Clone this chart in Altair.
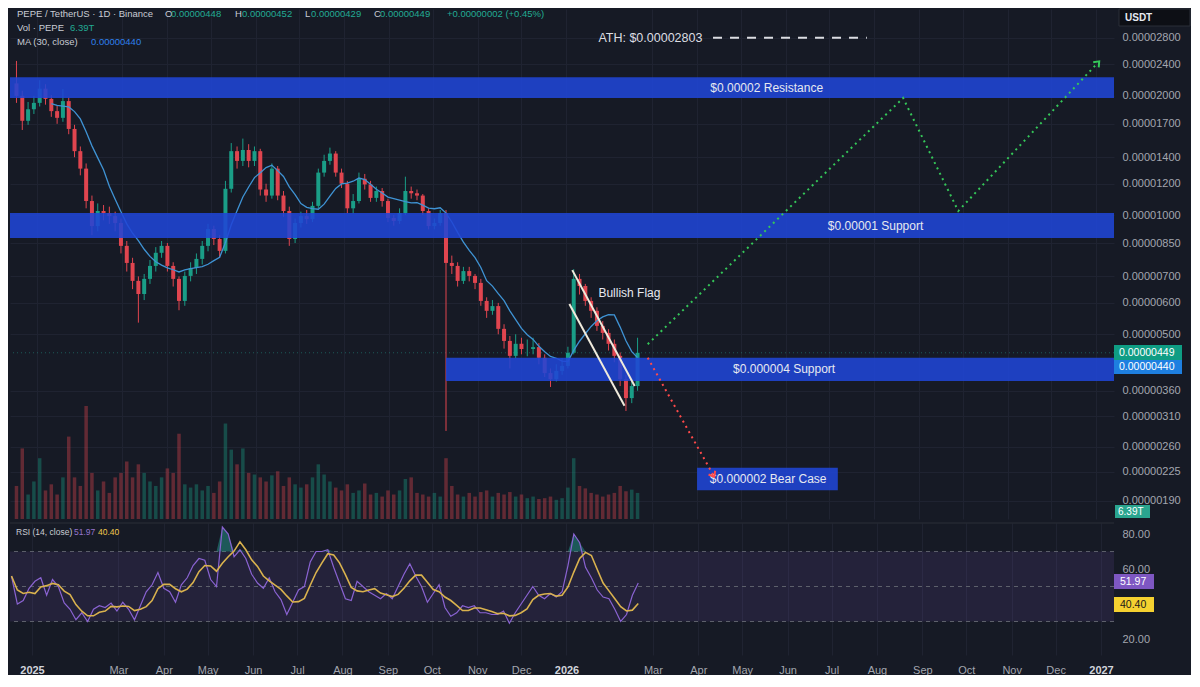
import altair as alt
import pandas as pd

# ---------------- values (prices in units of 1e-6 USDT) ----------------
candle_start = "2024-12-18"   # one candle every 4 days
first_open = 21.5
closes = [20.0, 17.3, 18.5, 19.2, 20.85, 19.65, 18.3, 17.6, 19.4, 16.5,
          14.5, 13.1, 10.85, 9.38, 10.24, 10.12, 9.94, 9.55, 8.36, 7.57,
          6.82, 6.32, 6.90, 7.44, 8.03, 8.36, 7.44, 6.90, 6.07, 7.02,
          7.35, 7.75, 8.36, 9.22, 8.70, 8.12, 11.65, 14.5, 13.7, 14.6,
          13.7, 14.5, 11.6, 11.2, 13.1, 11.2, 10.24, 8.70, 9.55, 9.94,
          9.77, 10.55, 12.8, 13.7, 14.3, 12.8, 12.0, 10.4, 10.85, 12.35,
          11.95, 11.05, 11.5, 10.85, 9.83, 9.66, 10.12, 11.5, 11.35, 11.2,
          10.24, 9.38, 9.55, 10.12, 7.57, 7.44, 6.82, 7.22, 7.02, 6.74,
          6.07, 5.73, 5.89, 5.16, 4.81, 4.41, 4.73, 4.59, 4.59, 4.64,
          4.36, 3.99, 3.85, 4.04, 4.16, 4.49, 6.90, 6.62, 6.07, 5.73,
          5.25, 5.04, 4.73, 4.41, 3.85, 3.45, 3.70, 4.49]
highs = [24.5, 20.6, 19.3, 20.0, 21.9, 21.4, 20.1, 18.9, 20.8, 19.8,
         16.9, 14.9, 13.5, 11.2, 10.7, 10.6, 10.5, 10.2, 9.8, 8.6,
         7.8, 7.0, 7.1, 7.7, 8.3, 8.6, 8.5, 7.6, 7.0, 7.2,
         7.6, 8.0, 8.6, 9.5, 9.4, 8.9, 12.2, 15.2, 14.9, 15.6,
         15.1, 14.9, 14.7, 12.0, 13.5, 13.3, 11.5, 10.5, 9.8, 10.2,
         10.3, 10.8, 13.1, 14.2, 14.8, 14.5, 13.1, 12.2, 11.3, 12.8,
         12.7, 12.2, 11.8, 11.7, 11.0, 10.0, 10.4, 12.5, 11.8, 11.6,
         11.3, 10.4, 9.8, 10.3, 10.3, 7.9, 7.6, 7.4, 7.4, 7.1,
         6.9, 6.2, 6.1, 6.0, 5.3, 4.95, 5.0, 4.9, 4.85, 4.9,
         4.75, 4.45, 4.1, 4.2, 4.35, 4.65, 7.3, 7.1, 6.7, 6.2,
         5.85, 5.4, 5.15, 4.85, 4.5, 3.95, 3.85, 4.9]
lows = [19.2, 16.4, 16.9, 18.0, 18.8, 19.0, 17.7, 17.0, 17.2, 16.0,
        14.0, 12.6, 10.4, 8.9, 9.1, 9.7, 9.5, 9.1, 8.0, 7.2,
        6.5, 5.35, 6.1, 6.7, 7.2, 7.8, 7.2, 6.6, 5.75, 5.9,
        6.8, 7.1, 7.5, 8.1, 8.4, 7.8, 8.0, 11.4, 13.1, 13.3,
        13.2, 13.3, 11.2, 10.8, 11.0, 10.9, 9.9, 8.36, 8.5, 9.3,
        9.5, 9.6, 10.4, 12.5, 13.4, 12.5, 11.7, 10.1, 10.1, 10.7,
        11.6, 10.8, 10.8, 10.5, 9.6, 9.4, 9.5, 10.0, 11.0, 10.9,
        10.0, 9.2, 9.2, 9.4, 2.85, 7.1, 6.6, 6.7, 6.8, 6.5,
        5.9, 5.5, 5.6, 5.0, 4.6, 4.1, 4.35, 4.45, 4.4, 4.45,
        4.2, 3.9, 3.68, 3.8, 3.95, 4.1, 4.45, 6.3, 5.9, 5.5,
        5.1, 4.85, 4.55, 4.25, 3.7, 3.2, 3.35, 3.6]
volumes_t = [8.1, 17.3, 6.0, 9.2, 14.9, 7.0, 8.5, 6.0, 10.2, 20.2,
             10.2, 8.1, 27.7, 11.3, 7.0, 9.2, 6.4, 10.2, 11.3, 14.1,
             10.2, 13.4, 11.3, 9.2, 8.1, 10.2, 12.4, 11.3, 20.9, 8.5,
             7.7, 8.5, 7.0, 8.1, 6.4, 9.2, 23.4, 17.0, 13.4, 17.3,
             11.3, 10.9, 10.2, 9.2, 10.7, 11.7, 8.1, 10.2, 8.5, 7.7,
             8.5, 10.2, 13.4, 10.9, 9.2, 7.7, 7.0, 8.5, 6.4, 7.0,
             8.7, 6.0, 6.4, 5.5, 7.0, 6.0, 7.0, 9.8, 10.2, 6.4,
             6.0, 5.5, 6.4, 5.5, 14.9, 8.1, 6.0, 5.5, 6.4, 5.5,
             6.6, 7.0, 5.5, 6.4, 6.0, 6.6, 5.5, 6.0, 5.1, 5.5,
             4.9, 5.1, 5.5, 4.7, 5.1, 7.7, 14.9, 8.1, 7.5, 6.4,
             6.0, 5.5, 6.0, 6.4, 8.1, 6.8, 7.2, 6.39]
rsi_values = [56, 40, 42, 49, 53, 55, 45, 54, 50, 40.6,
              37, 31, 35, 30, 37, 39, 38, 40.5, 36, 41,
              37, 31, 39, 47, 51, 58, 49, 47, 41, 51,
              55, 62, 66, 65, 54, 50, 84, 80, 67, 71,
              66, 57, 52, 49, 55, 47, 42.5, 34, 41, 48,
              50, 64, 70, 70, 71, 61, 52, 43, 42, 53,
              50, 47, 45, 43, 46, 43, 50, 57, 63, 56,
              50, 41, 46, 51, 38, 33, 35, 39, 38, 39,
              35, 35, 34, 34, 36, 29, 35, 40, 45, 50,
              45, 43, 46, 44, 47, 62, 80, 75, 61, 55,
              48, 44, 43, 37, 30, 34, 45, 51.97]

price_ticks = [28, 24, 20, 17, 14, 12, 10, 8.5, 7, 6, 5, 3.6, 3.1, 2.6, 2.25, 1.9]
rsi_ticks = [80, 60, 20]
rsi_levels = [70, 50, 30]
tick_months = [(2025, 1), (2025, 3), (2025, 4), (2025, 5), (2025, 6), (2025, 7), (2025, 8),
               (2025, 9), (2025, 10), (2025, 11), (2025, 12), (2026, 1), (2026, 3), (2026, 4),
               (2026, 5), (2026, 6), (2026, 7), (2026, 8), (2026, 9), (2026, 10), (2026, 11),
               (2026, 12), (2027, 1)]

band_start = ["2024-12-10", "2024-12-10", "2025-10-10", "2026-04-01"]
band_end = ["2027-01-20", "2027-01-20", "2027-01-20", "2026-07-07"]
band_low = [19.75, 8.75, 3.81, 2.02]
band_high = [22.3, 10.12, 4.36, 2.30]
band_label = ["$0.00002 Resistance", "$0.00001 Support", "$0.000004 Support", "$0.000002 Bear Case"]
band_label_date = ["2026-05-19", "2026-08-02", "2026-05-31", "2026-05-20"]

ath_price = 28.03
ath_label_date = "2026-01-23"
ath_dash_dates = ["2026-04-12", "2026-07-27"]

flag_start_date = ["2026-01-05", "2026-01-03"]
flag_start_price = [7.26, 5.96]
flag_end_date = ["2026-02-17", "2026-02-10"]
flag_end_price = [3.70, 3.30]
flag_label_date = "2026-01-23"
flag_label_price = 6.36

bull_dates = ["2026-02-26", "2026-08-21", "2026-09-28", "2027-01-02"]
bull_prices = [4.72, 19.75, 10.24, 24.2]
bear_dates = ["2026-02-26", "2026-04-12"]
bear_prices = [4.36, 2.21]
last_price = 4.49

# ---------------- tables ----------------
dates = pd.date_range(candle_start, periods=len(closes), freq="4D")
df = pd.DataFrame({
    "date": dates,
    "i": list(range(len(closes))),
    "open": [first_open] + closes[:-1],
    "close": closes,
    "high": highs,
    "low": lows,
    "vol": volumes_t,
    "rsi": rsi_values,
})
bands = pd.DataFrame({"start": pd.to_datetime(band_start), "end": pd.to_datetime(band_end),
                      "lo": band_low, "hi": band_high, "label": band_label,
                      "ld": pd.to_datetime(band_label_date)})
flags = pd.DataFrame({"d1": pd.to_datetime(flag_start_date), "p1": flag_start_price,
                      "d2": pd.to_datetime(flag_end_date), "p2": flag_end_price})
bull = pd.DataFrame({"d": pd.to_datetime(bull_dates), "p": bull_prices, "o": range(len(bull_dates))})
bear = pd.DataFrame({"d": pd.to_datetime(bear_dates), "p": bear_prices, "o": range(len(bear_dates))})

# ---------------- style ----------------
FONT = "Liberation Sans"
BG = "#161a25"
GRID = "#1f2331"
AX = "#a3a6af"
TXT = "#c9ccd4"
UP = "#1a9e87"
DN = "#e0454f"
BAND = "#2046d6"
GREEN_T = "#22ab94"
BLUE_T = "#2f80ed"
W, HP, HR = 1104, 510, 132

xscale = alt.Scale(domain=[alt.DateTime(year=2024, month=12, date=16, hours=23, minutes=31),
                           alt.DateTime(year=2027, month=1, date=9, hours=21)], nice=False)
tick_values = [alt.DateTime(year=y, month=m, date=1) for y, m in tick_months]
axis_top = alt.Axis(values=tick_values, labels=False, ticks=False, domain=False, grid=True,
                    gridColor=GRID, title=None)
axis_bottom = alt.Axis(values=tick_values, ticks=False, domain=False, grid=True, gridColor=GRID,
                       title=None, labelPadding=9, labelFont=FONT, labelFontSize=11,
                       labelColor={"condition": {"test": "month(datum.value) == 0", "value": "#d1d4dc"}, "value": AX},
                       labelFontWeight={"condition": {"test": "month(datum.value) == 0", "value": "bold"}, "value": "normal"},
                       labelOverlap=False, labelFlush=False,
                       labelExpr="month(datum.value) == 0 ? timeFormat(datum.value, '%Y') : timeFormat(datum.value, '%b')")

yscale = alt.Scale(type="log", domain=[1.708, 33.14], nice=False, zero=False)
price_axis = alt.Axis(orient="right", values=price_ticks, grid=True, gridColor=GRID, ticks=False,
                      domain=False, labelPadding=8, labelFont=FONT, labelFontSize=11, labelColor=AX,
                      labelOverlap=False, title=None,
                      labelExpr="format(datum.value * 1e-6, '.8f')")
rsi_scale = alt.Scale(domain=[10.86, 86.3], nice=False, zero=False)
rsi_axis = alt.Axis(orient="right", values=rsi_ticks, format=".2f", grid=False, ticks=False,
                    domain=False, labelPadding=8, labelFont=FONT, labelFontSize=11, labelColor=AX,
                    title=None)


def XT(f):
    return alt.X(f, type="temporal", scale=xscale, axis=axis_top, title=None)


def XB(f):
    return alt.X(f, type="temporal", scale=xscale, axis=axis_bottom, title=None)


def YP(f):
    return alt.Y(f, type="quantitative", scale=yscale, axis=price_axis, title=None)


def YR(f):
    return alt.Y(f, type="quantitative", scale=rsi_scale, axis=rsi_axis, title=None)


def txt(text, x, y, color, size=10, weight="normal", align="left"):
    return alt.Chart(pd.DataFrame({"t": [text]})).mark_text(
        align=align, baseline="middle", color=color, fontSize=size, fontWeight=weight, font=FONT
    ).encode(x=alt.value(x), y=alt.value(y), text="t:N")


def box(x1, x2, y1, y2, fill, stroke=None):
    kw = {"color": fill}
    if stroke:
        kw = {"fill": fill, "stroke": stroke, "strokeWidth": 1}
    return alt.Chart(pd.DataFrame({"a": [0]})).mark_rect(**kw).encode(
        x=alt.value(x1), x2=alt.value(x2), y=alt.value(y1), y2=alt.value(y2))


base = alt.Chart(df)
updown = alt.condition("datum.close >= datum.open", alt.value(UP), alt.value(DN))

# ---------------- price pane ----------------
volume = base.mark_bar(size=3.5, opacity=0.38, clip=True).encode(
    x=XT("date"), y=alt.Y("vol:Q", scale=alt.Scale(domain=[0, 125], nice=False), axis=None),
    color=updown)

price_line = alt.Chart(pd.DataFrame({"p": [last_price]})).mark_rule(
    color="#26a69a", opacity=0.45, strokeDash=[1, 3]).encode(y=YP("p"))
wicks = base.mark_rule(strokeWidth=1, clip=True).encode(x=XT("date"), y=YP("low"), y2="high", color=updown)
bodies = base.mark_bar(size=4, clip=True).encode(x=XT("date"), y=YP("open"), y2="close", color=updown)
ma = base.transform_window(ma="mean(close)", frame=[-7, 0], sort=[alt.SortField("date")]).transform_filter(
    "datum.i >= 6").mark_line(color="#3f93d4", strokeWidth=1.3, clip=True).encode(x=XT("date"), y=YP("ma:Q"))

band_rects = alt.Chart(bands).mark_rect(color=BAND, opacity=0.88, clip=True).encode(
    x=XT("start"), x2="end", y=YP("lo"), y2="hi")
band_texts = alt.Chart(bands).transform_calculate(mid="sqrt(datum.lo * datum.hi)").mark_text(
    color="#e6e9f0", fontSize=12, font=FONT, baseline="middle").encode(
    x=XT("ld"), y=YP("mid:Q"), text="label:N")

flag_lines = alt.Chart(flags).mark_rule(color="#efeadc", strokeWidth=2).encode(
    x=XT("d1"), x2="d2", y=YP("p1"), y2="p2")
flag_text = alt.Chart(pd.DataFrame({"d": pd.to_datetime([flag_label_date]), "p": [flag_label_price],
                                    "t": ["Bullish Flag"]})).mark_text(
    align="left", baseline="middle", color="#e6e9f0", fontSize=12, font=FONT).encode(
    x=XT("d"), y=YP("p"), text="t:N")

bull_path = alt.Chart(bull).mark_line(color="#35c759", strokeWidth=2, strokeDash=[2, 4]).encode(
    x=XT("d"), y=YP("p"), order="o:Q")
bear_path = alt.Chart(bear).mark_line(color="#ff4a4a", strokeWidth=2, strokeDash=[2, 4]).encode(
    x=XT("d"), y=YP("p"), order="o:Q")
chevron = "M -0.8 0.5 L 0 -0.5 L 0.8 0.5"
bull_head = alt.Chart(bull.tail(1)).mark_point(shape=chevron, filled=False, strokeWidth=2, size=90,
                                               angle=43, color="#35c759", opacity=1).encode(
    x=XT("d"), y=YP("p"))
bear_head = alt.Chart(bear.tail(1)).mark_point(shape=chevron, filled=False, strokeWidth=2, size=90,
                                               angle=151, color="#ff4a4a", opacity=1).encode(
    x=XT("d"), y=YP("p"))

ath_df = pd.DataFrame({"d": pd.to_datetime([ath_label_date]), "p": [ath_price], "t": ["ATH: $0.00002803"]})
ath_text = alt.Chart(ath_df).mark_text(align="left", baseline="middle", color="#dcdde2", fontSize=12.5,
                                        font=FONT).encode(x=XT("d"), y=YP("p"), text="t:N")
ath_dash = alt.Chart(pd.DataFrame({"d1": pd.to_datetime([ath_dash_dates[0]]),
                                   "d2": pd.to_datetime([ath_dash_dates[1]]), "p": [ath_price]})).mark_rule(
    color="#dcdde2", strokeWidth=2, strokeDash=[9, 8]).encode(x=XT("d1"), x2="d2", y=YP("p"))

header = [
    txt("PEPE / TetherUS · 1D · Binance", 7, 5, TXT, 9.5),
    txt("O", 155, 5, TXT, 9.5), txt("0.00000448", 161, 5, GREEN_T, 9.5),
    txt("H", 225, 5, TXT, 9.5), txt("0.00000452", 232, 5, GREEN_T, 9.5),
    txt("L", 295, 5, TXT, 9.5), txt("0.00000429", 301, 5, GREEN_T, 9.5),
    txt("C", 364, 5, TXT, 9.5), txt("0.00000449", 370, 5, GREEN_T, 9.5),
    txt("+0.00000002 (+0.45%)", 437, 5, GREEN_T, 9.5),
    txt("Vol · PEPE", 7, 19, TXT, 9.5), txt("6.39T", 60, 19, GREEN_T, 9.5),
    txt("MA (30, close)", 7, 33, TXT, 9.5), txt("0.00000440", 81, 33, BLUE_T, 9.5),
]
tags_top = [
    box(1109, 1180, 0, 17, "#0d0f15", "#2a2e39"), txt("USDT", 1115, 8.5, "#e6e9f0", 10, "bold"),
    box(1104, 1172, 336, 351, "#0f9d84"), txt("0.00000449", 1109, 343.5, "#ffffff", 10.5),
    box(1104, 1172, 351, 365, "#1e7fe0"), txt("0.00000440", 1109, 358, "#ffffff", 10.5),
    box(1105, 1140, 496, 509, "#2aa58f"), txt("6.39T", 1108, 502.5, "#ffffff", 10),
]

price_group = alt.layer(price_line, wicks, bodies, ma, band_rects, band_texts, flag_lines, flag_text,
                        bull_path, bear_path, bull_head, bear_head, ath_text, ath_dash,
                        *header, *tags_top)
top = alt.layer(volume, price_group).resolve_scale(y="independent").properties(width=W, height=HP)

# ---------------- RSI pane ----------------
zone = alt.Chart(pd.DataFrame({"lo": [rsi_levels[2]], "hi": [rsi_levels[0]]})).mark_rect(
    color="#7e57c2", opacity=0.14).encode(x=alt.value(0), x2=alt.value(W), y=YR("hi"), y2="lo")
dashes = alt.Chart(pd.DataFrame({"lvl": rsi_levels})).mark_rule(
    color="#5d606b", strokeDash=[4, 4], strokeWidth=1).encode(y=YR("lvl"))
sep = alt.Chart(pd.DataFrame({"a": [0]})).mark_rule(color="#2a2e39", strokeWidth=1).encode(
    y=alt.value(0), x=alt.value(0), x2=alt.value(W))
overbought = base.transform_calculate(ob="max(datum.rsi, 70)", b70="70").mark_area(
    color="#26a69a", opacity=0.45).encode(x=XB("date"), y=YR("ob:Q"), y2=alt.Y2("b70"))
rsi_line = base.mark_line(color="#8a63d2", strokeWidth=1.2).encode(x=XB("date"), y=YR("rsi"))
rsi_ma = base.transform_window(rma="mean(rsi)", frame=[-3, 0], sort=[alt.SortField("date")]).mark_line(
    color="#d9b24e", strokeWidth=1.6).encode(x=XB("date"), y=YR("rma:Q"))
rsi_texts = [
    txt("RSI (14, close)", 6, 9, TXT, 8.5),
    txt("51.97", 64, 9, "#9575cd", 8.5),
    txt("40.40", 88, 9, "#f2c94c", 8.5),
    box(1104, 1144, 51, 66, "#7e57c2"), txt("51.97", 1110, 58.5, "#ffffff", 10.5),
    box(1104, 1144, 74, 89, "#f5d130"), txt("40.40", 1110, 81.5, "#1a1a1a", 10.5),
]
bottom = alt.layer(zone, dashes, sep, overbought, rsi_line, rsi_ma, *rsi_texts).properties(width=W, height=HR)

chart = alt.vconcat(top, bottom, spacing=3).properties(padding=0, background=BG).configure_view(stroke=None)
chart.save("out.html", embed_options={"renderer": "svg", "actions": False})
